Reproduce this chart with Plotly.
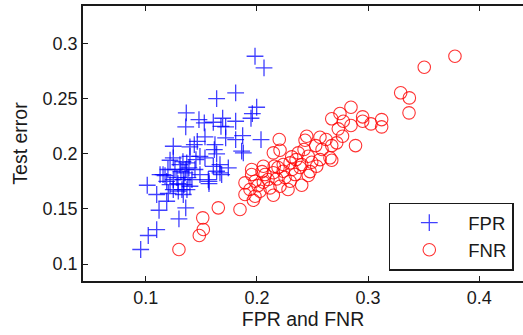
import plotly.graph_objects as go

# FPR (blue plus) points
fpr_x = [0.1983, 0.2064, 0.1809, 0.1638, 0.1998, 0.1365, 0.1959, 0.1692, 0.1947, 0.1479,
         0.1527, 0.1608, 0.1809, 0.1360, 0.1719, 0.1677, 0.1872, 0.1533, 0.1719, 0.1809,
         0.2037, 0.1464, 0.1248, 0.1398, 0.1437, 0.1623, 0.1617, 0.1863, 0.1878, 0.1638,
         0.1248, 0.1398, 0.1488, 0.1533, 0.1219, 0.1308, 0.1369, 0.1389, 0.1608, 0.1668,
         0.1743, 0.1638, 0.1129, 0.1174, 0.1353, 0.1488, 0.1683, 0.1189, 0.1248, 0.1338,
         0.1569, 0.1014, 0.1219, 0.1398, 0.1569, 0.1248, 0.1293, 0.1099, 0.1203, 0.1338,
         0.1189, 0.1360, 0.1120, 0.1299, 0.1099, 0.1023, 0.0955, 0.1563, 0.1668,
         0.1335, 0.1362, 0.1380, 0.1344, 0.1371, 0.1317, 0.1281, 0.1263, 0.1326, 0.1416,
         0.1443, 0.1452, 0.1290, 0.1200, 0.1156]
fpr_y = [0.2886, 0.2780, 0.2554, 0.2502, 0.2423, 0.2372, 0.2366, 0.2323, 0.2323, 0.2311,
         0.2281, 0.2287, 0.2296, 0.2245, 0.2245, 0.2250, 0.2166, 0.2154, 0.2145, 0.2130,
         0.2130, 0.2114, 0.2069, 0.2064, 0.2084, 0.2084, 0.2039, 0.2024, 0.2009, 0.2000,
         0.1964, 0.1978, 0.1978, 0.1964, 0.1942, 0.1903, 0.1918, 0.1873, 0.1887, 0.1903,
         0.1873, 0.1842, 0.1812, 0.1803, 0.1828, 0.1812, 0.1812, 0.1751, 0.1767, 0.1767,
         0.1751, 0.1715, 0.1721, 0.1706, 0.1730, 0.1676, 0.1661, 0.1631, 0.1640, 0.1631,
         0.1570, 0.1510, 0.1488, 0.1410, 0.1313, 0.1259, 0.1132, 0.1767, 0.1828,
         0.1930, 0.1858, 0.1785, 0.1721, 0.1676, 0.1840, 0.1785, 0.1858, 0.1676, 0.1767,
         0.1858, 0.1948, 0.1730, 0.1858, 0.1812]

# FNR (red circle) points
fnr_x = [0.3781, 0.3505, 0.3293, 0.3371, 0.3368, 0.2846, 0.2951, 0.2951, 0.3026, 0.3122,
         0.3122, 0.2846, 0.2673, 0.2747, 0.2777, 0.2732, 0.2770, 0.2887, 0.2201, 0.2448,
         0.2567, 0.2433, 0.2529, 0.2673, 0.2718, 0.2148, 0.2372, 0.2462, 0.2313, 0.2657,
         0.2493, 0.2673, 0.2058, 0.2156, 0.2237, 0.2298, 0.2403, 0.2538, 0.1953, 0.1953,
         0.2148, 0.2237, 0.2343, 0.2462, 0.1893, 0.1983, 0.2058, 0.2178, 0.2298, 0.2403,
         0.1938, 0.2028, 0.2118, 0.2208, 0.1893, 0.1983, 0.2148, 0.1968, 0.1848, 0.1653,
         0.1513, 0.1518, 0.1482, 0.1299, 0.2208,
         0.2073, 0.2253, 0.2100, 0.2010, 0.2316, 0.2388, 0.2478, 0.2568, 0.2280, 0.2046,
         0.2190, 0.2352, 0.2424, 0.2586, 0.2622]
fnr_y = [0.2886, 0.2786, 0.2554, 0.2508, 0.2372, 0.2423, 0.2336, 0.2296, 0.2272, 0.2311,
         0.2245, 0.2257, 0.2318, 0.2366, 0.2296, 0.2227, 0.2160, 0.2075, 0.2130, 0.2160,
         0.2151, 0.2123, 0.2075, 0.2075, 0.2100, 0.2009, 0.2009, 0.1978, 0.1973, 0.1964,
         0.1924, 0.1942, 0.1887, 0.1887, 0.1903, 0.1918, 0.1903, 0.1887, 0.1858, 0.1812,
         0.1828, 0.1842, 0.1812, 0.1803, 0.1737, 0.1751, 0.1742, 0.1773, 0.1751, 0.1715,
         0.1676, 0.1661, 0.1691, 0.1706, 0.1631, 0.1615, 0.1624, 0.1579, 0.1495, 0.1510,
         0.1419, 0.1313, 0.1259, 0.1132, 0.2033,
         0.1812, 0.1785, 0.1767, 0.1712, 0.1858, 0.1876, 0.1839, 0.1948, 0.1676, 0.1839,
         0.1876, 0.1948, 0.2039, 0.2039, 0.2130]

x_ticks = [0.1, 0.2, 0.3, 0.4]
y_ticks = [0.1, 0.15, 0.2, 0.25, 0.3]

FONT = "Liberation Sans, Arial, sans-serif"

fig = go.Figure()
fig.add_trace(go.Scatter(
    x=fpr_x, y=fpr_y, mode="markers", name="FPR",
    marker=dict(symbol="cross-thin-open", size=12, color="rgba(0,0,255,0.75)",
                line=dict(color="rgba(0,0,255,0.75)", width=1.3)),
))
fig.add_trace(go.Scatter(
    x=fnr_x, y=fnr_y, mode="markers", name="FNR",
    marker=dict(symbol="circle-open", size=12.5, color="rgba(255,0,0,0.8)",
                line=dict(color="rgba(255,0,0,0.8)", width=1.1)),
))

axis_common = dict(
    showgrid=False, zeroline=False, showline=True, linecolor="#1a1a1a", linewidth=1.5,
    ticks="inside", ticklen=5, tickcolor="#1a1a1a", tickwidth=1,
    tickfont=dict(family=FONT, size=18, color="#1a1a1a"),
)

fig.update_layout(
    width=523, height=335,
    margin=dict(l=83, r=0, t=6, b=54),
    paper_bgcolor="white", plot_bgcolor="white",
    font=dict(family=FONT, color="#1a1a1a"),
    xaxis=dict(range=[0.04362, 0.4393], tickvals=x_ticks, ticktext=[str(v) for v in x_ticks],
               mirror="ticks",
               title=dict(text="FPR and FNR", font=dict(family=FONT, size=19.5), standoff=2),
               **axis_common),
    yaxis=dict(range=[0.0846, 0.3342], tickvals=y_ticks, ticktext=[str(v) for v in y_ticks],
               mirror=False,
               title=dict(text="Test error", font=dict(family=FONT, size=19.5), standoff=10),
               **axis_common),
    legend=dict(x=0.695, y=0.285, xanchor="left", yanchor="top",
                bgcolor="white", bordercolor="#1a1a1a", borderwidth=1.5,
                font=dict(family=FONT, size=18.5, color="#1a1a1a"),
                itemwidth=68, tracegroupgap=0),
    showlegend=True,
)

fig.write_html("out.html")
